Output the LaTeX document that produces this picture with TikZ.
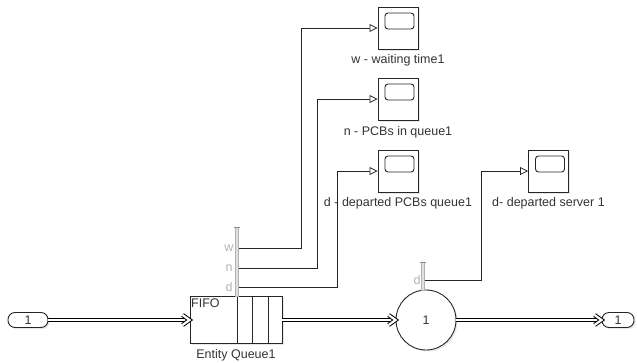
\documentclass[tikz,border=0pt]{standalone}
\usepackage{fontspec}
\setmainfont{Liberation Sans}
\usetikzlibrary{arrows.meta,shadows,calc}
\begin{document}
\begin{tikzpicture}[x=1pt,y=-1pt,
  every node/.style={font=\fontsize{12.5}{14}\selectfont, text=black!80, inner sep=0pt},
  blk/.style={draw=black!85, line width=0.9pt, fill=white, drop shadow={shadow xshift=1.5pt, shadow yshift=-1.5pt, fill=black!18}},
  scopebox/.style={blk, minimum width=40pt, minimum height=42pt},
  screen/.style={draw=black!85, line width=0.9pt, rounded corners=3pt, minimum width=29pt, minimum height=16pt},
  portbox/.style={blk, rounded corners=7pt},
  sig/.style={draw=black!85, line width=0.8pt, -{Triangle[open, length=8pt, width=8pt, fill=white]}},
  ent/.style={draw=black, line width=1pt, double=white, double distance=2.2pt, line join=miter},
  bar/.style={draw=black!30, fill=black!12, line width=0.5pt},
  plabel/.style={text=black!30},
]
\useasboundingbox (0,0) rectangle (637,362);

% inport / outport
\node[portbox, minimum width=40pt, minimum height=15pt] (in) at (28,320) {1};
\node[portbox, minimum width=32pt, minimum height=15pt] (out) at (618,320) {1};

% queue
\node[blk, minimum width=92pt, minimum height=47pt] (q) at (236,320) {};
\draw[black!85, line width=0.9pt] (237,296.5) -- (237,343.5) (252,296.5) -- (252,343.5) (268,296.5) -- (268,343.5);
\node[anchor=north west] (fifo) at (191,298.5) {FIFO};
\node (qlabel) at (236,355) {Entity Queue1};

% queue signal port bar
\draw[bar] (235.5,227) rectangle (238.5,296);
\draw[black!45, line width=1pt] (234,227) -- (240,227);
\node[plabel] (lw) at (229,248) {w};
\node[plabel] (ln) at (229,268) {n};
\node[plabel] (ld) at (229,287) {d};
\coordinate (qw) at (238.5,248);
\coordinate (qn) at (238.5,268);
\coordinate (qd) at (238.5,287);

% server
\node[blk, circle, minimum size=60pt] (srv) at (426,320) {1};
\draw[bar] (421.5,262) rectangle (424.5,290.5);
\draw[black!45, line width=1pt] (420,262) -- (426,262);
\node[plabel] (lsd) at (417,280) {d};
\coordinate (sd) at (424.5,280);

% scopes
\node[scopebox] (s1) at (398,28) {};
\node[screen] (s1s) at ($(s1)+(1.5,-7)$) {};
\node (s1l) at (398,60) {w - waiting time1};
\node[scopebox] (s2) at (398,99) {};
\node[screen] (s2s) at ($(s2)+(1.5,-7)$) {};
\node (s2l) at (398,132) {n - PCBs in queue1};
\node[scopebox] (s3) at (398,171) {};
\node[screen] (s3s) at ($(s3)+(1.5,-7)$) {};
\node (s3l) at (398,203) {d - departed PCBs queue1};
\node[scopebox] (s4) at (548.5,171) {};
\node[screen] (s4s) at ($(s4)+(1.5,-7)$) {};
\node (s4l) at (548.5,203) {d- departed server 1};

% signal lines
\draw[sig] (qw) -| ([xshift=-76pt]s1.west) -- (s1.west);
\draw[sig] (qn) -| ([xshift=-60pt]s2.west) -- (s2.west);
\draw[sig] (qd) -| ([xshift=-40pt]s3.west) -- (s3.west);
\draw[sig] (sd) -| ([xshift=-47pt]s4.west) -- (s4.west);

% entity lines
\draw[ent] (in.east) -- (q.west);
\draw[ent] ([shift={(-7,-5)}]q.west) -- (q.west) -- ([shift={(-7,5)}]q.west);
\draw[ent] (q.east) -- (srv.west);
\draw[ent] ([shift={(-7,-5)}]srv.west) -- (srv.west) -- ([shift={(-7,5)}]srv.west);
\draw[ent] (srv.east) -- (out.west);
\draw[ent] ([shift={(-7,-5)}]out.west) -- (out.west) -- ([shift={(-7,5)}]out.west);
\end{tikzpicture}
\end{document}
